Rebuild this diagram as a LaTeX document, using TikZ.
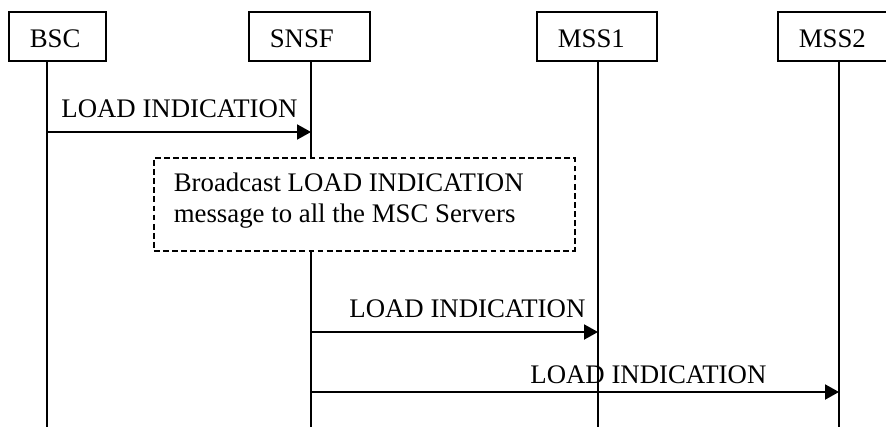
\documentclass[tikz,border=0pt]{standalone}
\usepackage{fontspec}
\setmainfont{Liberation Serif}
\usetikzlibrary{arrows.meta}

\begin{document}
\begin{tikzpicture}[
  x=0.5pt, y=-0.5pt,
  font=\fontsize{13.4pt}{15.5pt}\selectfont,
  entity/.style={draw, line width=0.8pt, anchor=north west, align=flush left, inner xsep=10.5pt, inner ysep=0pt, minimum height=24.5pt, text height=11.5pt, text depth=0pt},
  note/.style={draw, dash pattern=on 2.9pt off 1.65pt, line width=0.8pt, anchor=north west, align=flush left, inner xsep=10pt, inner ysep=0pt, minimum width=210.5pt, minimum height=46.5pt, text width=190.5pt, text depth=21.6pt},
  life/.style={line width=0.9pt},
  msg/.style={line width=1pt, -{Triangle[length=7pt, width=7.5pt]}},
  lbl/.style={anchor=base west, inner sep=0pt}
]
  \useasboundingbox (0,0) rectangle (886,427);

  % entities
  \node[entity, minimum width=48.5pt, text width=27.5pt] (bsc) at (8,11) {BSC};
  \node[entity, minimum width=60.5pt, text width=39.5pt] (snsf) at (248,11) {SNSF};
  \node[entity, minimum width=60pt, text width=39pt] (mss1) at (536,11) {MSS1};
  \node[entity, minimum width=60pt, text width=39pt] (mss2) at (777,11) {MSS2};

  % lifeline ends
  \coordinate (bscL) at (47,427);
  \coordinate (snsfL) at (311,427);
  \coordinate (mss1L) at (598,427);
  \coordinate (mss2L) at (839,427);

  \node[note] (bcast) at (153,157) {Broadcast LOAD INDICATION\\message to all the MSC Servers};

  \draw[life] (bsc.south -| bscL) -- (bscL);
  \draw[life] (snsf.south -| snsfL) -- (bcast.north -| snsfL);
  \draw[life] (bcast.south -| snsfL) -- (snsfL);
  \draw[life] (mss1.south -| mss1L) -- (mss1L);
  \draw[life] (mss2.south -| mss2L) -- (mss2L);

  % messages
  \coordinate (m1) at (0,132);
  \coordinate (m2) at (0,332);
  \coordinate (m3) at (0,392);
  \draw[msg] (bscL |- m1) -- (snsfL |- m1);
  \draw[msg] (snsfL |- m2) -- (mss1L |- m2);
  \draw[msg] (snsfL |- m3) -- (mss2L |- m3);

  \node[lbl] (l1) at (61,118) {LOAD INDICATION};
  \node[lbl] (l2) at (349,317) {LOAD INDICATION};
  \node[lbl] (l3) at (530,383) {LOAD INDICATION};
\end{tikzpicture}
\end{document}
